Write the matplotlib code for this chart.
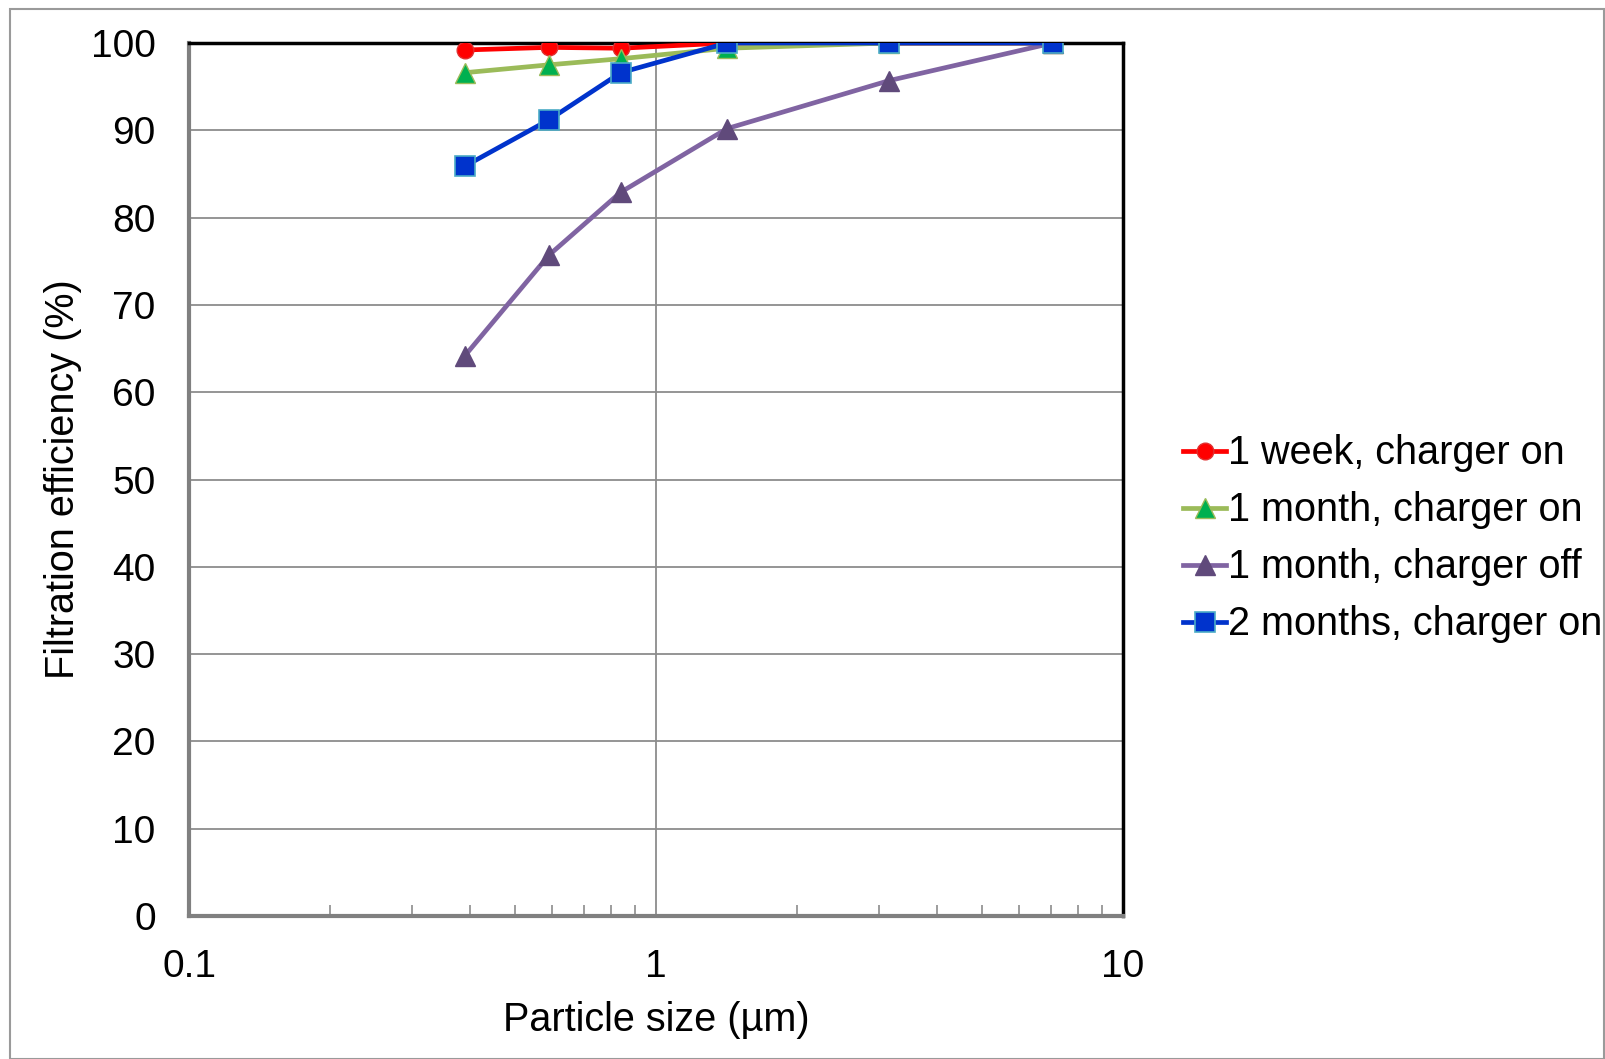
import matplotlib
matplotlib.use("Agg")
import matplotlib.pyplot as plt
from matplotlib.patches import Rectangle
from matplotlib.ticker import LogLocator, NullFormatter, FixedLocator, FixedFormatter

plt.rcParams['font.family'] = ['Liberation Sans', 'DejaVu Sans']

sizes = [0.39, 0.59, 0.84, 1.42, 3.16, 7.07]
week1_on = [99.2, 99.5, 99.4, 100.0, 100.0, 100.0]
month1_on = [96.6, 97.5, 98.2, 99.4, 100.0, 100.0]
month1_off = [64.2, 75.7, 82.9, 90.2, 95.7, 100.0]
month2_on = [85.9, 91.2, 96.6, 100.0, 100.0, 100.0]
labels = ["1 week, charger on", "1 month, charger on", "1 month, charger off", "2 months, charger on"]
yticks = list(range(0, 101, 10))
xticks = [0.1, 1, 10]
xticklabels = ["0.1", "1", "10"]

fig = plt.figure(figsize=(16.05, 10.59), dpi=100)
fig.patches.append(Rectangle((10/1605, 0), 1 - 10/1605 - 0.0005, 1 - 9/1059, transform=fig.transFigure,
                             fill=False, edgecolor='#9a9a9a', linewidth=1.5))
ax = fig.add_axes([189/1605, 1 - 916/1059, (1123 - 189)/1605, (916 - 43)/1059])

ax.plot(sizes, week1_on, color='#ff0000', lw=3.4, marker='o', ms=12,
        mfc='#ff0000', mec='#e03030', label=labels[0], zorder=3)
ax.plot(sizes, month1_on, color='#9bbb59', lw=3.4, marker='^', ms=15,
        mfc='#00b050', mec='#9bbb59', label=labels[1], zorder=3)
ax.plot(sizes, month1_off, color='#8064a2', lw=3.4, marker='^', ms=15,
        mfc='#604a7b', mec='#604a7b', label=labels[2], zorder=3)
ax.plot(sizes, month2_on, color='#0033cc', lw=3.4, marker='s', ms=15,
        mfc='#0033cc', mec='#4bacc6', mew=1.2, label=labels[3], zorder=4)

ax.set_xscale('log')
ax.set_xlim(0.1, 10)
ax.set_ylim(0, 100)
ax.xaxis.set_major_locator(FixedLocator(xticks))
ax.xaxis.set_major_formatter(FixedFormatter(xticklabels))
ax.xaxis.set_minor_locator(LogLocator(base=10, subs=range(2, 10)))
ax.xaxis.set_minor_formatter(NullFormatter())
ax.set_yticks(yticks)

ax.grid(True, which='major', axis='both', color='#8c8c8c', lw=1.3)
ax.set_axisbelow(True)

ax.tick_params(axis='x', which='minor', direction='in', length=8, width=1.2, color='#8c8c8c')
ax.tick_params(axis='x', which='major', direction='in', length=0, labelsize=28, pad=24)
ax.tick_params(axis='y', which='major', length=0, labelsize=28, pad=24)

for s in ['top', 'right']:
    ax.spines[s].set_color('black')
    ax.spines[s].set_linewidth(2.5)
for s in ['left', 'bottom']:
    ax.spines[s].set_color('#808080')
    ax.spines[s].set_linewidth(3)

ax.set_xlabel("Particle size (µm)", fontsize=28.5, labelpad=11)
ax.set_ylabel("Filtration efficiency (%)", fontsize=28.5, labelpad=6)

leg = ax.legend(loc='center left', bbox_to_anchor=(1.047, 0.432), frameon=False, fontsize=28.5,
                handlelength=1.1, handletextpad=0.05, labelspacing=0.48, borderaxespad=0)

fig.savefig("out.png", dpi=100)
